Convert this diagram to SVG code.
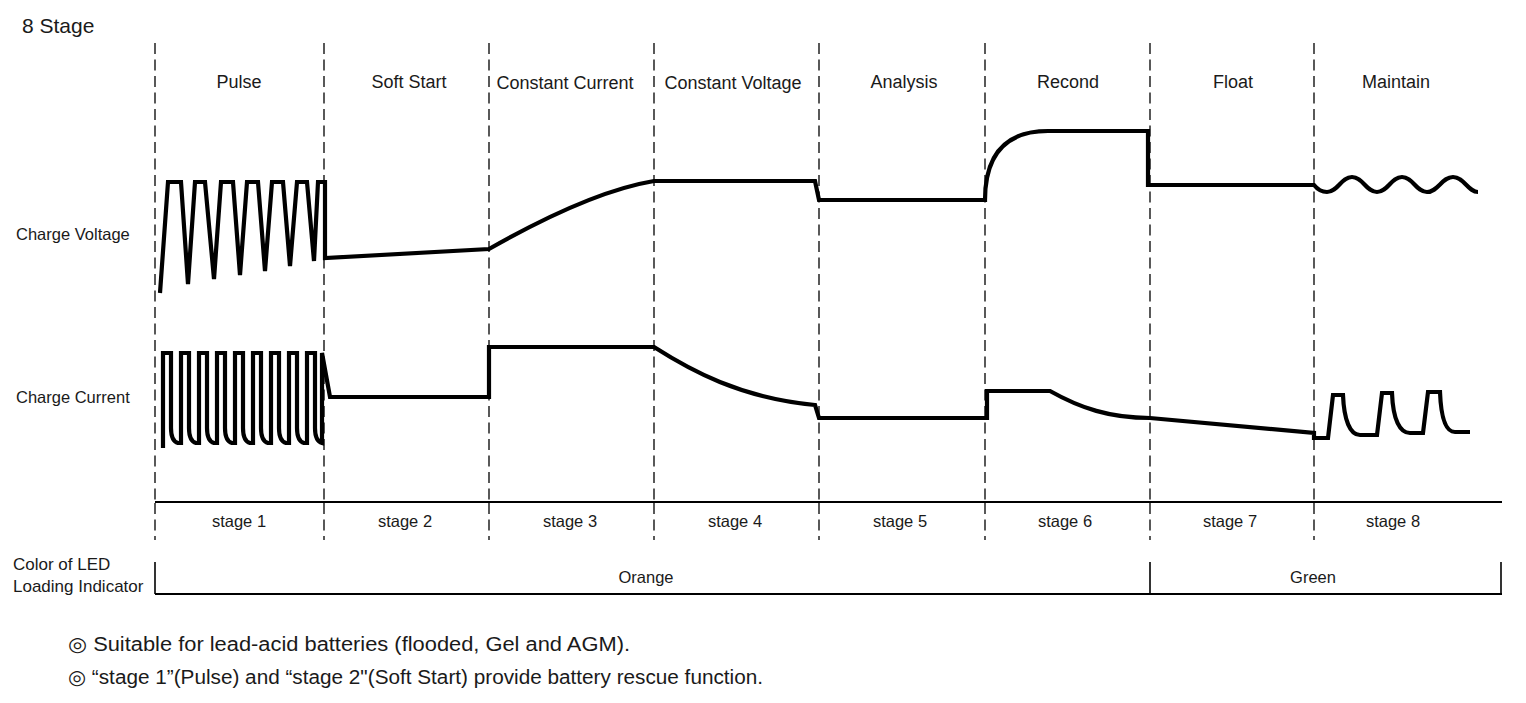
<svg xmlns="http://www.w3.org/2000/svg" width="1526" height="703" viewBox="0 0 1526 703">
<style>
text{font-family:"Liberation Sans","DejaVu Sans",Arial,sans-serif;fill:#1a1a1a}
.hd{font-size:18px;text-anchor:middle}
.st{font-size:16.5px;text-anchor:middle}
.lbl{font-size:16.5px}
.note{font-size:20px}
.dash{stroke:#000;stroke-width:1.3;stroke-dasharray:11 5.5;fill:none}
.rule{stroke:#000;stroke-width:2;fill:none}
.tick{stroke:#000;stroke-width:1.6;fill:none}
.wave{stroke:#000;stroke-width:4.2;fill:none;stroke-linejoin:miter;stroke-miterlimit:3}
</style>
<rect width="1526" height="703" fill="#fff"/>
<text x="22" y="33" style="font-size:21px">8 Stage</text>

<g id="grid">
<line class="dash" x1="155" y1="43" x2="155" y2="501"/>
<line class="dash" x1="324" y1="43" x2="324" y2="501"/>
<line class="dash" x1="489" y1="43" x2="489" y2="501"/>
<line class="dash" x1="654" y1="43" x2="654" y2="501"/>
<line class="dash" x1="819" y1="43" x2="819" y2="501"/>
<line class="dash" x1="985" y1="43" x2="985" y2="501"/>
<line class="dash" x1="1150" y1="43" x2="1150" y2="501"/>
<line class="dash" x1="1314" y1="43" x2="1314" y2="501"/>
<line class="rule" x1="155" y1="502" x2="1502" y2="502"/>
<line class="dash" x1="155" y1="503" x2="155" y2="540"/>
<line class="dash" x1="324" y1="503" x2="324" y2="540"/>
<line class="dash" x1="489" y1="503" x2="489" y2="540"/>
<line class="dash" x1="654" y1="503" x2="654" y2="540"/>
<line class="dash" x1="819" y1="503" x2="819" y2="540"/>
<line class="dash" x1="985" y1="503" x2="985" y2="540"/>
<line class="dash" x1="1150" y1="503" x2="1150" y2="540"/>
<line class="dash" x1="1314" y1="503" x2="1314" y2="540"/>
</g>

<g id="stage-names">
<text class="hd" x="239" y="88">Pulse</text>
<text class="hd" x="409" y="88">Soft Start</text>
<text class="hd" x="565" y="89">Constant Current</text>
<text class="hd" x="733" y="89">Constant Voltage</text>
<text class="hd" x="904" y="88">Analysis</text>
<text class="hd" x="1068" y="88">Recond</text>
<text class="hd" x="1233" y="88">Float</text>
<text class="hd" x="1396" y="88">Maintain</text>
</g>

<g id="row-labels">
<text class="lbl" x="16" y="240">Charge Voltage</text>
<text class="lbl" x="16" y="403">Charge Current</text>
<text class="lbl" x="13" y="570" style="font-size:17px">Color of LED</text>
<text class="lbl" x="13" y="592" style="font-size:17px">Loading Indicator</text>
</g>

<g id="voltage">
<path class="wave" d="M160,293 L168,182 H181 L188,284 L195,182 H205 L214,279 L221,182 H233 L240,275 L247,182 H258 L265,271 L272,182 H283 L290,266 L297,182 H307 L314,261 L318,182 H325 V258 L489,249 C540,220 600,190 654,181 H815 L819,200 H985 C985,150 1010,131 1048,131 H1148 V185 H1314 C1318,190 1322,192 1327,192 C1338,192 1341,177 1352,177 C1363,177 1366,192 1377,192 C1388,192 1391,177 1402,177 C1413,177 1416,192 1427,192 C1438,192 1442,177 1453,177 C1464,177 1468,192 1478,192"/>
</g>

<g id="current">
<path class="wave" d="M163,448 V353 H171 V428 Q171,441 178,443 H181 V353 H189 V428 Q189,441 196,443 H199 V353 H207 V428 Q207,441 214,443 H217 V353 H225 V428 Q225,441 232,443 H235 V353 H243 V428 Q243,441 250,443 H253 V353 H261 V428 Q261,441 268,443 H271 V353 H279 V428 Q279,441 286,443 H289 V353 H297 V428 Q297,441 304,443 H307 V353 H315 V428 Q315,441 322,443 V353 L330,397 H489 V347 H654 C690,370 740,398 815,405 L819,418 H987 V391 H1050 C1080,408 1110,418 1150,418 L1314,433 V438 H1328 L1333,395 H1343 C1344,420 1350,435 1360,435 H1377 L1382,393 H1392 C1393,420 1400,433 1410,433 H1423 L1428,392 H1440 C1441,418 1446,432 1455,432 H1470"/>
</g>

<g id="stage-row">
<text class="st" x="239" y="527">stage 1</text>
<text class="st" x="405" y="527">stage 2</text>
<text class="st" x="570" y="527">stage 3</text>
<text class="st" x="735" y="527">stage 4</text>
<text class="st" x="900" y="527">stage 5</text>
<text class="st" x="1065" y="527">stage 6</text>
<text class="st" x="1230" y="527">stage 7</text>
<text class="st" x="1393" y="527">stage 8</text>
</g>

<g id="led-row">
<line class="tick" x1="155" y1="562" x2="155" y2="594"/>
<line class="tick" x1="1150" y1="562" x2="1150" y2="594"/>
<line class="tick" x1="1501" y1="562" x2="1501" y2="594"/>
<line class="rule" x1="155" y1="594" x2="1502" y2="594"/>
<text class="st" x="646" y="583">Orange</text>
<text class="st" x="1313" y="583">Green</text>
</g>

<g id="notes">
<text class="note" x="68" y="651" textLength="562" lengthAdjust="spacingAndGlyphs">◎ Suitable for lead-acid batteries (flooded, Gel and AGM).</text>
<text class="note" x="68" y="684" textLength="695" lengthAdjust="spacingAndGlyphs">◎ “stage 1”(Pulse) and “stage 2"(Soft Start) provide battery rescue function.</text>
</g>
</svg>
